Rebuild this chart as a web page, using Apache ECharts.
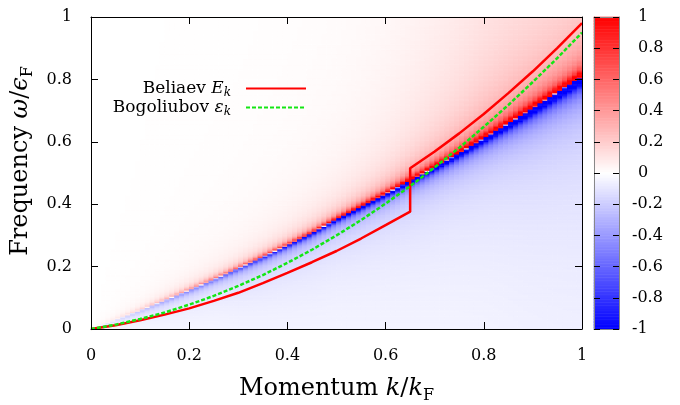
<!DOCTYPE html>
<html>
<head>
<meta charset="utf-8">
<script src="https://cdn.jsdelivr.net/npm/echarts@6/dist/echarts.min.js"></script>
<style>
html, body { margin: 0; padding: 0; background: #fff; }
#chart { width: 680px; height: 405px; }
</style>
</head>
<body>
<div id="chart"></div>
<script>
// momentum nodes k/kF
const kNodes = [0, 0.05, 0.1, 0.15, 0.2, 0.25, 0.3, 0.35, 0.4, 0.45, 0.5,
  0.55, 0.6, 0.65, 0.7, 0.75, 0.8, 0.85, 0.9, 0.95, 1];
// zero crossing of the colour map (white ridge)
const peakOmega = [0, 0.030, 0.060, 0.092, 0.125, 0.159, 0.195, 0.231, 0.269, 0.308, 0.352,
  0.392, 0.433, 0.476, 0.519, 0.564, 0.611, 0.659, 0.708, 0.759, 0.810];
// scale and fall-off of the positive side (above the ridge)
const upScale = [0, 0.0005, 0.001, 0.0017, 0.0024, 0.003, 0.0036, 0.0042, 0.0048, 0.0054, 0.006,
  0.0067, 0.0075, 0.0085, 0.0095, 0.0105, 0.0115, 0.0125, 0.0135, 0.0143, 0.015];
const upPower = [1, 1, 1, 1, 1, 1, 1, 0.98, 0.96, 0.93, 0.9,
  0.85, 0.8, 0.75, 0.7, 0.66, 0.62, 0.6, 0.6, 0.6, 0.6];
// scale of the negative side (below the ridge)
const downScale = [0, 0.0005, 0.001, 0.0017, 0.0024, 0.003, 0.0042, 0.0052, 0.006, 0.0068, 0.0075,
  0.0085, 0.0095, 0.0105, 0.0115, 0.0128, 0.0145, 0.017, 0.02, 0.0225, 0.025];
const downPower = 0.8;
const ridgeWidth = 0.003;

const bogoliubovOmega = [0, 0.014, 0.032, 0.053, 0.078, 0.106, 0.138, 0.173, 0.212, 0.254, 0.300,
  0.349, 0.402, 0.458, 0.518, 0.581, 0.648, 0.718, 0.792, 0.869, 0.950];

const beliaevK = [0, 0.05, 0.1, 0.15, 0.2, 0.25, 0.3, 0.35, 0.4, 0.45, 0.5, 0.55, 0.6, 0.65,
  0.65, 0.7, 0.75, 0.8, 0.85, 0.9, 0.95, 1];
const beliaevOmega = [0, 0.012, 0.028, 0.046, 0.066, 0.090, 0.116, 0.147, 0.180, 0.214, 0.250, 0.290, 0.333, 0.376,
  0.515, 0.569, 0.627, 0.689, 0.756, 0.826, 0.901, 0.980];

const nCols = 100;
const nRows = 250;

function interp(xs, ys, x) {
  for (let i = 1; i < xs.length; i++) {
    if (x <= xs[i]) {
      const t = (x - xs[i - 1]) / (xs[i] - xs[i - 1]);
      return ys[i - 1] + t * (ys[i] - ys[i - 1]);
    }
  }
  return ys[ys.length - 1];
}

const colCats = [];
const rowCats = [];
for (let i = 0; i < nCols; i++) colCats.push(((i + 0.5) / nCols).toFixed(3));
for (let j = 0; j < nRows; j++) rowCats.push(((j + 0.5) / nRows).toFixed(3));

const heatData = [];
for (let i = 0; i < nCols; i++) {
  const k = (i + 0.5) / nCols;
  const w0 = interp(kNodes, peakOmega, k);
  const cu = interp(kNodes, upScale, k);
  const pu = interp(kNodes, upPower, k);
  const cd = interp(kNodes, downScale, k);
  for (let j = 0; j < nRows; j++) {
    const d = (j + 0.5) / nRows - w0;
    const r = Math.sqrt(d * d + ridgeWidth * ridgeWidth);
    let v = d > 0
      ? Math.pow(cu / r, pu) * d / r
      : Math.pow(cd / r, downPower) * d / r;
    v = Math.max(-1, Math.min(1, v));
    heatData.push([i, j, v]);
  }
}

// colour bar
const cbRows = 200;
const cbCats = [];
const cbData = [];
for (let j = 0; j < cbRows; j++) {
  cbCats.push(String(j));
  cbData.push([0, j, -1 + 2 * (j + 0.5) / cbRows]);
}

const bogoData = kNodes.map((k, i) => [k, bogoliubovOmega[i]]);
const beliaevData = beliaevK.map((k, i) => [k, beliaevOmega[i]]);

const font = '"DejaVu Serif", serif';
const tickLabel = { fontFamily: font, fontSize: 16, color: '#000' };
const blackLine = { lineStyle: { color: '#000', width: 1 }, onZero: false };
const inTick = { inside: true, length: 7, lineStyle: { color: '#000', width: 1 } };

const titleRich = {
  t: { fontFamily: font, fontSize: 24, color: '#000', lineHeight: 30 },
  i: { fontFamily: font, fontSize: 24, fontStyle: 'italic', color: '#000', lineHeight: 30 },
  s: { fontFamily: font, fontSize: 16, color: '#000', lineHeight: 17, verticalAlign: 'bottom' }
};
const legendRich = {
  t: { fontFamily: font, fontSize: 17, color: '#000', lineHeight: 21 },
  i: { fontFamily: font, fontSize: 17, fontStyle: 'italic', color: '#000', lineHeight: 21 },
  s: { fontFamily: font, fontSize: 12, fontStyle: 'italic', color: '#000', lineHeight: 10, verticalAlign: 'bottom' }
};

const plot = { left: 91, top: 17, width: 491, height: 312 };
const bar = { left: 594, top: 17, width: 25, height: 312 };

const chart = echarts.init(document.getElementById('chart'));

const option = {
  animation: false,
  textStyle: { fontFamily: font },
  grid: [
    { ...plot, outerBoundsMode: 'none', containLabel: false },
    { ...plot, outerBoundsMode: 'none', containLabel: false },
    { ...bar, outerBoundsMode: 'none', containLabel: false },
    { ...bar, outerBoundsMode: 'none', containLabel: false }
  ],
  visualMap: {
    type: 'continuous',
    show: false,
    min: -1,
    max: 1,
    seriesIndex: [0, 1],
    inRange: { color: ['#0000ff', '#ffffff', '#ff0000'] }
  },
  legend: {
    orient: 'vertical',
    align: 'right',
    right: 373,
    top: 80,
    padding: 0,
    itemGap: 0,
    itemWidth: 60,
    itemHeight: 14,
    itemStyle: { opacity: 0 },
    data: ['Beliaev', 'Bogoliubov'],
    formatter: name => name === 'Beliaev'
      ? '{t|Beliaev }{i|E}{s|k}'
      : '{t|Bogoliubov }{i|ε}{s|k}',
    textStyle: { fontFamily: font, padding: [0, 10, 0, 0], rich: legendRich }
  },
  xAxis: [
    { gridIndex: 0, type: 'category', data: colCats, show: false },
    {
      gridIndex: 1, type: 'value', min: 0, max: 1, interval: 0.2, position: 'bottom', z: 5,
      axisLine: blackLine, axisTick: inTick, splitLine: { show: false },
      axisLabel: { ...tickLabel, margin: 19, showMinLabel: true, showMaxLabel: true },
      name: '{t|Momentum }{i|k}{t|/}{i|k}{s|F}',
      nameLocation: 'middle', nameGap: 45,
      nameTextStyle: { fontFamily: font, rich: titleRich }
    },
    {
      gridIndex: 1, type: 'value', min: 0, max: 1, interval: 0.2, position: 'top', z: 5,
      axisLine: blackLine, axisTick: inTick, splitLine: { show: false },
      axisLabel: { show: false }
    },
    { gridIndex: 2, type: 'category', data: ['c'], show: false },
    {
      gridIndex: 3, type: 'value', min: 0, max: 1, position: 'bottom', z: 5,
      axisLine: { lineStyle: { color: '#888', width: 1 }, onZero: false },
      axisTick: { show: false }, axisLabel: { show: false }, splitLine: { show: false }
    },
    {
      gridIndex: 3, type: 'value', min: 0, max: 1, position: 'top', z: 5,
      axisLine: { lineStyle: { color: '#888', width: 1 }, onZero: false },
      axisTick: { show: false }, axisLabel: { show: false }, splitLine: { show: false }
    }
  ],
  yAxis: [
    { gridIndex: 0, type: 'category', data: rowCats, show: false },
    {
      gridIndex: 1, type: 'value', min: 0, max: 1, interval: 0.2, position: 'left', z: 5,
      axisLine: blackLine, axisTick: inTick, splitLine: { show: false },
      axisLabel: { ...tickLabel, margin: 19, showMinLabel: true, showMaxLabel: true },
      name: '{t|Frequency }{i|ω}{t|/}{i|ϵ}{s|F}',
      nameLocation: 'middle', nameRotate: 90, nameGap: 51,
      nameTextStyle: { fontFamily: font, rich: titleRich, padding: [0, 0, 0, 24] }
    },
    {
      gridIndex: 1, type: 'value', min: 0, max: 1, interval: 0.2, position: 'right', z: 5,
      axisLine: blackLine, axisTick: inTick, splitLine: { show: false },
      axisLabel: { show: false }
    },
    { gridIndex: 2, type: 'category', data: cbCats, show: false },
    {
      gridIndex: 3, type: 'value', min: -1, max: 1, interval: 0.2, position: 'left', z: 5,
      axisLine: { lineStyle: { color: '#888', width: 1 }, onZero: false },
      axisTick: { inside: true, length: 6, lineStyle: { color: '#000' } },
      axisLabel: { show: false }, splitLine: { show: false }
    },
    {
      gridIndex: 3, type: 'value', min: -1, max: 1, interval: 0.2, position: 'right', z: 5,
      axisLine: { lineStyle: { color: '#888', width: 1 }, onZero: false },
      axisTick: { inside: true, length: 6, lineStyle: { color: '#000' } },
      splitLine: { show: false },
      axisLabel: {
        ...tickLabel, margin: 19, showMinLabel: true, showMaxLabel: true,
        formatter: v => (v >= -1e-9 ? String(+v.toFixed(1)) : '')
      }
    },
    {
      gridIndex: 3, type: 'value', min: -1, max: 1, interval: 0.2, position: 'right', z: 5,
      axisLine: { show: false }, axisTick: { show: false }, splitLine: { show: false },
      axisLabel: {
        ...tickLabel, margin: 13, showMinLabel: true, showMaxLabel: true,
        formatter: v => (v < -1e-9 ? String(+v.toFixed(1)) : '')
      }
    }
  ],
  series: [
    {
      type: 'heatmap', xAxisIndex: 0, yAxisIndex: 0, data: heatData,
      progressive: 0, silent: true
    },
    {
      type: 'heatmap', xAxisIndex: 3, yAxisIndex: 3, data: cbData,
      progressive: 0, silent: true
    },
    {
      name: 'Beliaev', type: 'line', xAxisIndex: 1, yAxisIndex: 1,
      data: beliaevData, symbol: 'none', z: 3,
      lineStyle: { color: '#ff0000', width: 2.5 },
      itemStyle: { color: '#ff0000' }
    },
    {
      name: 'Bogoliubov', type: 'line', xAxisIndex: 1, yAxisIndex: 1,
      data: bogoData, symbol: 'none', z: 3,
      lineStyle: { color: '#14e614', width: 2.5, type: [4, 2] },
      itemStyle: { color: '#14e614' }
    }
  ]
};

chart.setOption(option);
</script>
</body>
</html>
